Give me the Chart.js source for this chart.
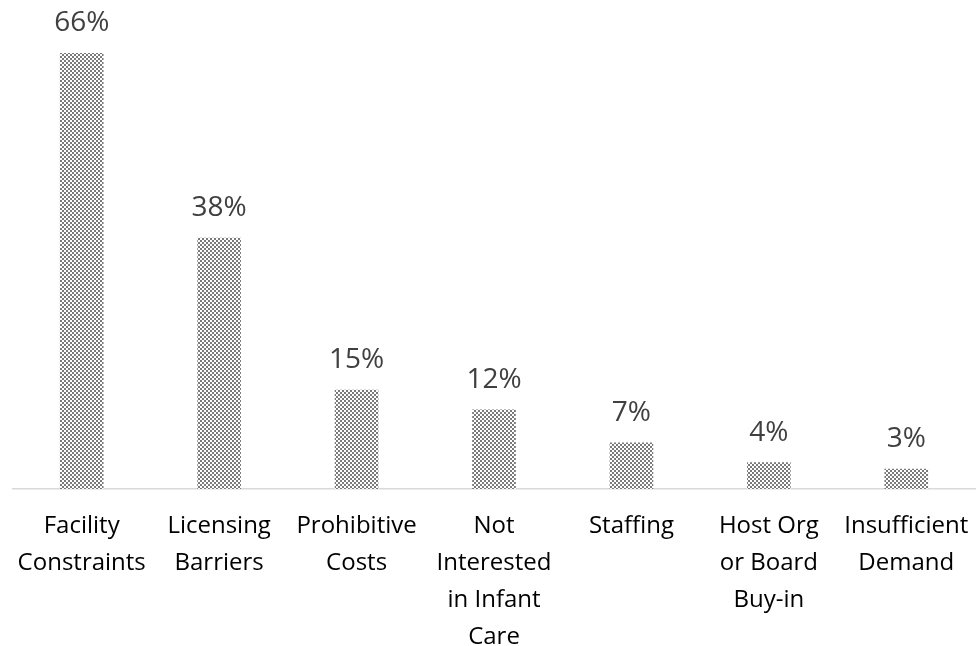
<!DOCTYPE html>
<html>
<head>
<meta charset="utf-8">
<script src="https://cdn.jsdelivr.net/npm/chart.js@4/dist/chart.umd.min.js"></script>
<style>
  html, body { margin: 0; padding: 0; background: #fff; }
  canvas { display: block; }
</style>
</head>
<body>
<canvas id="barChart" width="977" height="646"></canvas>
<script>
// Data
var categories = [
    ["Facility", "Constraints"],
    ["Licensing", "Barriers"],
    ["Prohibitive", "Costs"],
    ["Not", "Interested", "in Infant", "Care"],
    ["Staffing"],
    ["Host Org", "or Board", "Buy-in"],
    ["Insufficient", "Demand"]
];
var percentages = [66, 38, 15, 12, 7, 4, 3];

// Dotted fill like the Excel pattern
var makePattern = function (ctx) {
    var tile = document.createElement("canvas");
    tile.width = 4;
    tile.height = 4;
    var t = tile.getContext("2d");
    t.fillStyle = "#ffffff";
    t.fillRect(0, 0, 4, 4);
    t.fillStyle = "#7a7a7a";
    t.fillRect(0, 0, 2, 2);
    t.fillRect(2, 2, 2, 2);
    return ctx.createPattern(tile, "repeat");
};

// Values above bars
var valueLabels = {
    id: "valueLabels",
    afterDatasetsDraw: function (chart) {
        var ctx = chart.ctx;
        var meta = chart.getDatasetMeta(0);
        ctx.save();
        ctx.font = "28px 'Open Sans'";
        ctx.fillStyle = "#404040";
        ctx.textAlign = "center";
        ctx.textBaseline = "middle";
        meta.data.forEach(function (bar, i) {
            ctx.fillText(percentages[i] + "%", bar.x, bar.y - 30);
        });
        ctx.restore();
    }
};

var canvas = document.getElementById("barChart");
var ctx = canvas.getContext("2d");

var chart = new Chart(ctx, {
    type: "bar",
    data: {
        labels: categories,
        datasets: [{
            data: percentages,
            backgroundColor: makePattern(ctx),
            borderWidth: 0,
            barThickness: 43
        }]
    },
    options: {
        responsive: false,
        animation: false,
        events: [],
        layout: { autoPadding: false, padding: { top: 27, left: 13, right: 2, bottom: 0 } },
        plugins: {
            legend: { display: false },
            tooltip: { enabled: false }
        },
        scales: {
            x: {
                grid: { display: false, drawTicks: false },
                border: { display: true, color: "#d9d9d9", width: 1.5 },
                ticks: {
                    color: "#000000",
                    font: { family: "'Open Sans'", size: 24, lineHeight: "37px" },
                    padding: 19,
                    maxRotation: 0,
                    autoSkip: false
                },
                afterFit: function (scale) {
                    scale.height = 157;
                    scale.paddingLeft = 0;
                    scale.paddingRight = 0;
                }
            },
            y: {
                display: false,
                min: 0,
                max: 70
            }
        }
    },
    plugins: [valueLabels]
});
</script>
</body>
</html>
